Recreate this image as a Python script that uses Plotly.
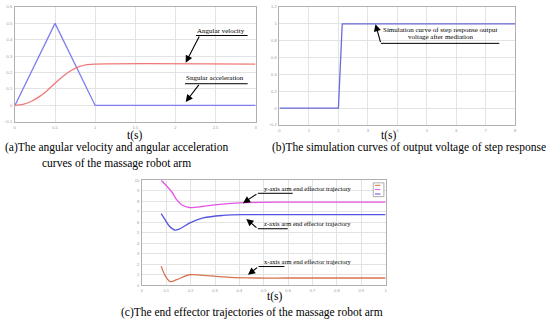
import plotly.graph_objects as go

W, H = 550, 322

# ---------------- data ----------------
# (a) angular acceleration / velocity
t_acc = [0, 0.5, 1.0, 3.0]
ang_acc = [0, 0.5, 0, 0]
t_vel = [0, 0.1, 0.2, 0.3, 0.4, 0.5, 0.6, 0.7, 0.8, 0.9, 1.0, 3.0]
ang_vel = [0, 0.006, 0.024, 0.052, 0.09, 0.135, 0.178, 0.213, 0.236, 0.248, 0.252, 0.252]
a_xticks = [0, 0.5, 1, 1.5, 2, 2.5, 3]
a_yticks = [-0.1, 0, 0.1, 0.2, 0.3, 0.4, 0.5, 0.6]

# (b) step response
t_step = [0, 2.0, 2.13, 8.0]
v_step = [0, 0, 1, 1]
b_xticks = [0, 1, 2, 3, 4, 5, 6, 7, 8]
b_yticks = [-0.2, 0, 0.2, 0.4, 0.6, 0.8, 1.0, 1.2]

# (c) end effector trajectories
t_y = [0.079, 0.122, 0.143, 0.163, 0.194, 0.224, 0.299, 0.401, 0.6, 1.0]
traj_y = [10.0, 8.9, 8.13, 7.66, 7.40, 7.44, 7.66, 7.84, 7.91, 7.91]
t_z = [0.079, 0.095, 0.113, 0.136, 0.156, 0.197, 0.251, 0.333, 0.429, 0.6, 1.0]
traj_z = [6.81, 6.25, 5.62, 5.25, 5.38, 5.94, 6.41, 6.65, 6.72, 6.72, 6.72]
t_x = [0.079, 0.095, 0.116, 0.143, 0.194, 0.251, 0.36, 0.469, 0.6, 1.0]
traj_x = [1.82, 0.94, 0.35, 0.53, 1.0, 0.94, 0.75, 0.69, 0.69, 0.69]
c_xticks = [round(0.1 * i, 1) for i in range(11)]
c_yticks = list(range(11))

SERIF = "Liberation Serif, Times New Roman, serif"
GRID = "#e3e3e3"
LINE = "#b0b0b0"


def px(x):
    return x / W


def py(y):
    return 1 - y / H


fig = go.Figure()

fig.add_trace(go.Scatter(x=t_acc, y=ang_acc, mode="lines", line=dict(color="#7d7def", width=1.3),
                         xaxis="x", yaxis="y", showlegend=False))
fig.add_trace(go.Scatter(x=t_vel, y=ang_vel, mode="lines", line=dict(color="#f07878", width=1.3, shape="spline"),
                         xaxis="x", yaxis="y", showlegend=False))
fig.add_trace(go.Scatter(x=t_step, y=v_step, mode="lines", line=dict(color="#6a6ad8", width=1.3),
                         xaxis="x2", yaxis="y2", showlegend=False))
fig.add_trace(go.Scatter(x=t_y, y=traj_y, mode="lines", line=dict(color="#e455e4", width=1.3, shape="spline"),
                         xaxis="x3", yaxis="y3", showlegend=False))
fig.add_trace(go.Scatter(x=t_z, y=traj_z, mode="lines", line=dict(color="#5555e0", width=1.3, shape="spline"),
                         xaxis="x3", yaxis="y3", showlegend=False))
fig.add_trace(go.Scatter(x=t_x, y=traj_x, mode="lines", line=dict(color="#d8734f", width=1.3, shape="spline"),
                         xaxis="x3", yaxis="y3", showlegend=False))


def ax_style(domain, rng, ticks, anchor):
    return dict(domain=domain, range=rng, tickvals=ticks, showgrid=True, gridcolor=GRID, gridwidth=1,
                showline=True, linecolor=LINE, linewidth=1, mirror=True, zeroline=False,
                ticks="", tickfont=dict(size=4, color="#999999", family="Arial"), anchor=anchor,
                ticklabelstandoff=1)


layout = dict(
    width=W, height=H, margin=dict(l=0, r=0, t=0, b=0),
    paper_bgcolor="white", plot_bgcolor="white", showlegend=False,
    xaxis=ax_style([px(14), px(256)], [0, 3], a_xticks, "y"),
    yaxis=ax_style([py(120.7), py(4)], [-0.1, 0.6], a_yticks, "x"),
    xaxis2=ax_style([px(280), px(517)], [0, 8], b_xticks, "y2"),
    yaxis2=ax_style([py(124), py(4)], [-0.2, 1.2], b_yticks, "x2"),
    xaxis3=ax_style([px(141.7), px(386.7)], [0, 1], c_xticks, "y3"),
    yaxis3=ax_style([py(286.7), py(180)], [0, 10], c_yticks, "x3"),
)
fig.update_layout(**layout)

ann = []
shapes = []


def text(x, y, s, size, anchor="center"):
    ann.append(dict(x=px(x), y=py(y), xref="paper", yref="paper", text=s, showarrow=False,
                    xanchor=anchor, yanchor="middle", font=dict(family=SERIF, size=size, color="black")))


def seg(x0, y0, x1, y1, w=1):
    shapes.append(dict(type="line", xref="paper", yref="paper", x0=px(x0), y0=py(y0), x1=px(x1), y1=py(y1),
                       line=dict(color="black", width=w)))


def arrow(tx, ty, fx, fy):
    ann.append(dict(x=px(tx), y=py(ty), xref="paper", yref="paper", text="", showarrow=True,
                    ax=fx - tx, ay=fy - ty, arrowhead=2, arrowsize=1.3, arrowwidth=1.1, arrowcolor="black"))


# captions and axis titles
text(116, 147, "(a)The angular velocity and angular acceleration", 11.5)
text(116, 163, "curves of the massage robot arm", 11.5)
text(134.5, 134.5, "t(s)", 11.5)
text(410, 147, "(b)The simulation curves of output voltage of step response", 11.5)
text(390, 135, "t(s)", 11.5)
text(275.5, 298.5, "t(s)", 11.5)
text(252.5, 314, "(c)The end effector trajectories of the massage robot arm", 11.5)

# (a) labels
text(221, 28, "Angular velocity", 7)
seg(196, 33, 248, 33)
arrow(185.7, 60.7, 200, 33)
text(215, 76.5, "Sngular acceleration", 7)
seg(185, 82, 248, 82)
arrow(185.7, 100.5, 200, 82)

# (b) labels
text(442, 27, "Simulation curve of step response output", 7)
text(442, 35, "voltage after mediation", 7)
seg(382, 41, 501, 41)
arrow(376.5, 21.5, 382, 41)

# (c) labels
text(308.8, 188.3, "y-axis arm end effector trajectory", 6.5)
seg(258.3, 193.3, 293.3, 193.3)
arrow(243.3, 203.3, 258.3, 193.3)
text(308.5, 224.3, "z-axis arm end effector trajectory", 6.5)
seg(258.3, 229.3, 288.3, 229.3)
arrow(246.7, 219.3, 258.3, 229.3)
text(309, 262.3, "x-axis arm end effector trajectory", 6.5)
seg(259, 267.7, 285, 267.7)
arrow(248.3, 276, 259, 267.7)

# (c) small legend box
shapes.append(dict(type="rect", xref="paper", yref="paper", x0=px(374.3), y0=py(196.7), x1=px(385), y1=py(182.7),
                   line=dict(color="#999999", width=0.8), fillcolor="white"))
for yy, col in [(185.2, "#d8734f"), (189.5, "#e455e4"), (194, "#5555e0")]:
    shapes.append(dict(type="line", xref="paper", yref="paper", x0=px(376), y0=py(yy), x1=px(381.5), y1=py(yy),
                       line=dict(color=col, width=1)))

fig.update_layout(annotations=ann, shapes=shapes)
fig.write_html("out.html", config={"displayModeBar": False},
               post_script="document.body.style.margin='0px';document.body.style.overflow='hidden';")
